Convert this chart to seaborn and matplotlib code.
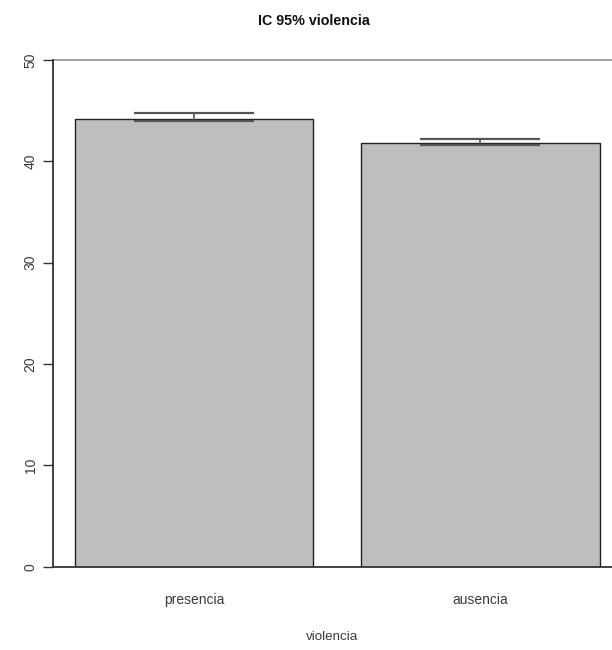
import matplotlib
matplotlib.use("Agg")
import matplotlib.pyplot as plt
import seaborn as sns
import pandas as pd

# Mean score by group with its 95% confidence interval
categories = ["presencia", "ausencia"]
means = [44.2, 41.8]
ci_low = [43.95, 41.6]
ci_high = [44.8, 42.2]
y_ticks = [0, 10, 20, 30, 40, 50]

df = pd.DataFrame({"violencia": categories, "media": means})

sns.set_theme(style="white")
plt.rcParams["font.family"] = ["Liberation Sans", "DejaVu Sans"]

fig = plt.figure(figsize=(6.12, 6.5), dpi=100)
ax = fig.add_axes([53 / 612, (650 - 566.7) / 650, 1 - 53 / 612, (566.7 - 60) / 650])

sns.barplot(data=df, x="violencia", y="media", order=categories,
            color="#bebebe", saturation=1, width=0.833,
            edgecolor="#222222", linewidth=1.0, errorbar=None, ax=ax)

# Confidence interval whiskers on each bar
for i, (m, lo, hi) in enumerate(zip(means, ci_low, ci_high)):
    ax.errorbar(i, m, yerr=[[m - lo], [hi - m]], fmt="none",
                ecolor="#555555", elinewidth=1.2, capsize=43, capthick=1.6,
                zorder=5)

ax.set_xlim(-0.492, 1.459)
ax.set_ylim(0, 50)
ax.set_yticks(y_ticks)
ax.set_yticklabels([str(t) for t in y_ticks], rotation=90, va="center",
                   fontsize=10, color="#3a3a3a")
ax.tick_params(axis="y", which="both", left=True, length=7, width=1.0,
               color="#333333", pad=4)
ax.tick_params(axis="x", which="both", bottom=False, length=0, pad=19,
               labelsize=10, labelcolor="#3a3a3a")

ax.set_xlabel("violencia", fontsize=9.6, color="#3a3a3a", labelpad=17)
ax.set_ylabel("")

for side in ["left", "top", "bottom", "right"]:
    ax.spines[side].set_visible(False)
ax.spines["left"].set_visible(True)
ax.spines["left"].set_color("#222222")
ax.spines["left"].set_linewidth(1.2)

# Reference lines at the axis limits, running to the right edge
ax.axhline(50, xmin=0, xmax=1, color="#9a9a9a", linewidth=1.3, clip_on=False, zorder=1)
ax.axhline(0, xmin=0, xmax=1, color="#333333", linewidth=1.3, clip_on=False, zorder=6)

fig.text(0.5 + 8 / 612, 1 - 21 / 650, "IC 95% violencia", ha="center", va="center",
         fontsize=10.3, fontweight="bold", color="#111111")

fig.savefig("out.png", dpi=100)
